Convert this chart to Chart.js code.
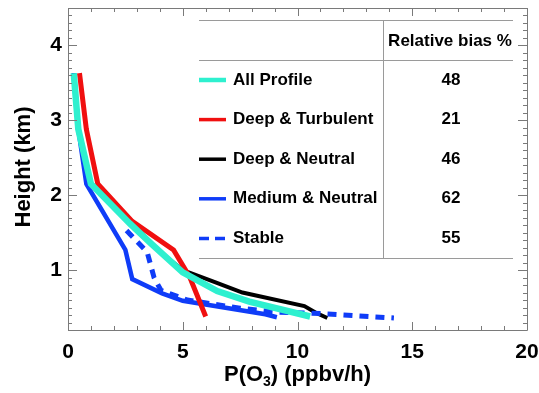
<!DOCTYPE html>
<html>
<head>
<meta charset="utf-8">
<script src="https://cdn.jsdelivr.net/npm/chart.js@4.4.1/dist/chart.umd.min.js"></script>
<style>
  html, body { margin: 0; padding: 0; background: #ffffff; }
  #wrap { position: relative; width: 539px; height: 393px; }
</style>
</head>
<body>
<div id="wrap"><canvas id="c" width="539" height="393"></canvas></div>
<script>
// ---------------- data ----------------
const seriesNames = ["All Profile", "Deep & Turbulent", "Deep & Neutral", "Medium & Neutral", "Stable"];
const relativeBias = ["48", "21", "46", "62", "55"];
const biasHeader = "Relative bias %";

const allProfileX = [0.25, 0.45, 1.0, 2.7, 3.6, 5.0, 6.5, 7.9, 10.55];
const allProfileY = [3.63, 2.88, 2.15, 1.62, 1.36, 0.97, 0.72, 0.58, 0.38];

const deepTurbX = [0.5, 0.8, 1.3, 2.8, 4.6, 5.3, 6.0];
const deepTurbY = [3.63, 2.88, 2.15, 1.65, 1.27, 0.91, 0.38];

const deepNeutX = [0.25, 0.45, 1.0, 2.75, 4.1, 5.0, 6.4, 7.6, 10.3, 10.8, 11.3];
const deepNeutY = [3.63, 2.88, 2.16, 1.63, 1.22, 1.0, 0.84, 0.70, 0.52, 0.43, 0.36];

const medNeutX = [0.25, 0.45, 0.8, 2.5, 2.8, 4.1, 5.0, 8.6, 9.1];
const medNeutY = [3.63, 2.88, 2.15, 1.27, 0.88, 0.69, 0.59, 0.41, 0.37];

const stableX = [2.55, 3.45, 3.75, 4.05, 5.2, 7.5, 9.0, 11.0, 14.2];
const stableY = [1.53, 1.24, 0.90, 0.73, 0.60, 0.49, 0.44, 0.42, 0.36];

const xTicks = [0, 5, 10, 15, 20];
const yTicks = [1, 2, 3, 4];
const xTitleMain = "P(O";
const xTitleSub = "3";
const xTitleEnd = ") (ppbv/h)";
const yTitle = "Height (km)";

// ---------------- styles ----------------
const colors = ["#2ef0cf", "#f01010", "#000000", "#0f3cf8", "#0f3cf8"];
const widths = [6.5, 5, 4, 4.5, 5];
const dashes = [[], [], [], [], [9, 7]];
const drawOrder = [0, 1, 3, 2, 2]; // lower = drawn on top
const FONT = "'Liberation Sans', Arial, Helvetica, sans-serif";

function pts(xs, ys) { return xs.map((x, i) => ({ x: x, y: ys[i] })); }
const seriesData = [
  pts(allProfileX, allProfileY),
  pts(deepTurbX, deepTurbY),
  pts(deepNeutX, deepNeutY),
  pts(medNeutX, medNeutY),
  pts(stableX, stableY)
];

const datasets = seriesNames.map((name, i) => ({
  label: name,
  data: seriesData[i],
  showLine: true,
  borderColor: colors[i],
  backgroundColor: colors[i],
  borderWidth: widths[i],
  borderDash: dashes[i],
  borderCapStyle: 'butt',
  borderJoinStyle: 'miter',
  pointRadius: 0,
  pointHoverRadius: 0,
  tension: 0,
  fill: false,
  order: drawOrder[i]
}));

// ---------------- frame, ticks, titles, table ----------------
const framePlugin = {
  id: 'frame',
  afterDraw(chart) {
    const ctx = chart.ctx;
    const a = chart.chartArea;
    const xs = chart.scales.x, ys = chart.scales.y;
    ctx.save();
    ctx.strokeStyle = '#7a7a7a';
    ctx.lineWidth = 1;
    ctx.beginPath();
    ctx.rect(Math.round(a.left) + 0.5, Math.round(a.top) + 0.5,
             Math.round(a.right - a.left), Math.round(a.bottom - a.top));
    ctx.stroke();
    // x ticks (bottom and top, inward)
    ctx.beginPath();
    for (let v = xs.min; v <= xs.max + 1e-9; v += 1) {
      const px = Math.round(xs.getPixelForValue(v)) + 0.5;
      const major = Math.abs(v % 5) < 1e-6;
      const len = major ? 8 : 4;
      ctx.moveTo(px, a.bottom); ctx.lineTo(px, a.bottom - len);
      ctx.moveTo(px, a.top); ctx.lineTo(px, a.top + len);
    }
    // y ticks (left and right, inward)
    for (let k = Math.ceil(ys.min * 10); k <= Math.floor(ys.max * 10); k++) {
      const v = k / 10;
      const py = Math.round(ys.getPixelForValue(v)) + 0.5;
      const major = k % 10 === 0;
      const len = major ? 9 : 4;
      ctx.moveTo(a.left, py); ctx.lineTo(a.left + len, py);
      ctx.moveTo(a.right, py); ctx.lineTo(a.right - len, py);
    }
    ctx.stroke();

    // x title with subscript
    ctx.fillStyle = '#000';
    ctx.textBaseline = 'alphabetic';
    const big = "bold 22px " + FONT, small = "bold 14px " + FONT;
    ctx.font = big; const w1 = ctx.measureText(xTitleMain).width;
    const w3 = ctx.measureText(xTitleEnd).width;
    ctx.font = small; const w2 = ctx.measureText(xTitleSub).width;
    const cx = (a.left + a.right) / 2;
    let sx = cx - (w1 + w2 + w3) / 2;
    const by = 381;
    ctx.font = big; ctx.textAlign = 'left';
    ctx.fillText(xTitleMain, sx, by); sx += w1;
    ctx.font = small; ctx.fillText(xTitleSub, sx, by + 5); sx += w2;
    ctx.font = big; ctx.fillText(xTitleEnd, sx, by);

    // y title
    ctx.save();
    ctx.translate(24, (a.top + a.bottom) / 2 - 2);
    ctx.rotate(-Math.PI / 2);
    ctx.textAlign = 'center';
    ctx.textBaseline = 'middle';
    ctx.font = "bold 22px " + FONT;
    ctx.fillText(yTitle, 0, 0);
    ctx.restore();

    // legend table
    const tL = 199, tR = 513, tVx = 383;
    const hTop = 20, hMid = 60, hBot = 258;
    ctx.strokeStyle = '#9a9a9a';
    ctx.lineWidth = 1;
    ctx.beginPath();
    [hTop, hMid, hBot].forEach(y => { ctx.moveTo(tL, y + 0.5); ctx.lineTo(tR, y + 0.5); });
    ctx.moveTo(tVx + 0.5, hTop); ctx.lineTo(tVx + 0.5, hBot);
    ctx.stroke();

    ctx.font = "bold 17px " + FONT;
    ctx.textBaseline = 'middle';
    ctx.textAlign = 'center';
    ctx.fillText(biasHeader, 450, 41);
    const rowY0 = 80, rowDy = 39.6;
    seriesNames.forEach((name, i) => {
      const y = rowY0 + i * rowDy;
      ctx.save();
      ctx.strokeStyle = colors[i];
      ctx.lineWidth = i === 0 ? 4.5 : 3.5;
      ctx.lineCap = 'butt';
      if (dashes[i].length) ctx.setLineDash([10, 6]);
      ctx.beginPath();
      ctx.moveTo(tL, y); ctx.lineTo(226, y);
      ctx.stroke();
      ctx.restore();
      ctx.fillStyle = '#000';
      ctx.textAlign = 'left';
      ctx.fillText(name, 233, y);
      ctx.textAlign = 'center';
      ctx.fillText(relativeBias[i], 451, y);
    });
    ctx.restore();
  }
};

new Chart(document.getElementById('c'), {
  type: 'scatter',
  data: { datasets: datasets },
  options: {
    responsive: false,
    animation: false,
    devicePixelRatio: 1,
    layout: { padding: { top: 8, right: 12, left: 0, bottom: 0 } },
    plugins: { legend: { display: false }, tooltip: { enabled: false } },
    scales: {
      x: {
        type: 'linear', min: 0, max: 20,
        grid: { display: false, drawTicks: false },
        border: { display: false },
        afterBuildTicks: s => { s.ticks = xTicks.map(v => ({ value: v })); },
        afterFit: s => { s.height = 63; s.paddingLeft = 0; s.paddingRight = 0; },
        ticks: { color: '#000', padding: 10, maxRotation: 0, autoSkip: false,
                 font: { family: FONT, size: 21, weight: 'bold' } }
      },
      y: {
        type: 'linear', min: 0.2, max: 4.5,
        grid: { display: false, drawTicks: false },
        border: { display: false },
        afterBuildTicks: s => { s.ticks = yTicks.map(v => ({ value: v })); },
        afterFit: s => { s.width = 68; s.paddingTop = 0; s.paddingBottom = 0; },
        ticks: { color: '#000', padding: 6, autoSkip: false,
                 font: { family: FONT, size: 21, weight: 'bold' } }
      }
    }
  },
  plugins: [framePlugin]
});
</script>
</body>
</html>
